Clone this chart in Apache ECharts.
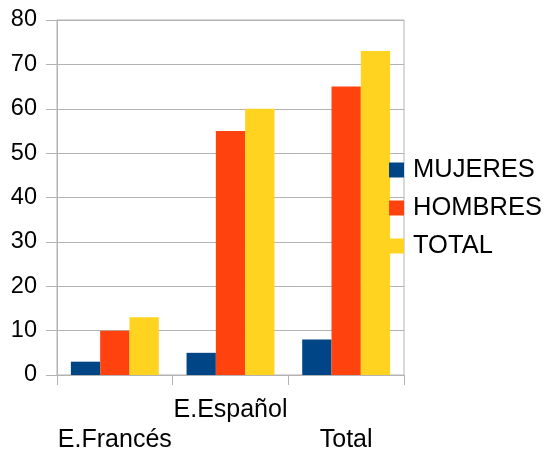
<!DOCTYPE html>
<html><head><meta charset="utf-8">
<script src="https://cdn.jsdelivr.net/npm/echarts@6/dist/echarts.min.js"></script>
<style>html,body{margin:0;padding:0;background:#fff}#c{width:547px;height:455px}</style>
</head><body><div id="c"></div>
<script>
const categories = ['E.Francés', 'E.Español', 'Total'];
const mujeres = [3, 5, 8];
const hombres = [10, 55, 65];
const total = [13, 60, 73];
const yTicks = [0, 10, 20, 30, 40, 50, 60, 70, 80];

const font = '"Liberation Sans", Arial, sans-serif';
const gray = '#b3b3b3';
const chart = echarts.init(document.getElementById('c'), null, {renderer: 'canvas'});
chart.setOption({
  animation: false,
  textStyle: {fontFamily: font},
  grid: {left: 57, right: 143, top: 20, bottom: 80, show: true, borderColor: gray, borderWidth: 1},
  legend: {
    orient: 'vertical', left: 384, top: 152,
    itemWidth: 15, itemHeight: 15, itemGap: 12,
    icon: 'rect',
    textStyle: {fontFamily: font, fontSize: 25.5, color: '#000', lineHeight: 26, padding: [0, 0, 0, 4]},
    data: ['MUJERES', 'HOMBRES', 'TOTAL']
  },
  xAxis: {
    type: 'category', data: categories,
    axisLine: {lineStyle: {color: gray}},
    axisTick: {show: true, length: 10, lineStyle: {color: gray}, alignWithLabel: false},
    axisLabel: {
      interval: 0, color: '#000', fontSize: 25, fontFamily: font, margin: 20, lineHeight: 30,
      formatter: (v, i) => (i % 2 === 0 ? '\n' + v : v)
    }
  },
  yAxis: {
    type: 'value', min: 0, max: 80, interval: 10,
    axisLine: {show: true, lineStyle: {color: gray}},
    axisTick: {show: true, length: 11, lineStyle: {color: gray}},
    splitLine: {lineStyle: {color: gray}},
    axisLabel: {color: '#000', fontSize: 23.5, fontFamily: font, margin: 20,
      formatter: v => yTicks.includes(v) ? String(v) : ''}
  },
  series: [
    {name: 'MUJERES', type: 'bar', data: mujeres, barGap: '0%', barCategoryGap: '24%', itemStyle: {color: '#004586'}},
    {name: 'HOMBRES', type: 'bar', data: hombres, itemStyle: {color: '#ff420e'}},
    {name: 'TOTAL', type: 'bar', data: total, itemStyle: {color: '#ffd320'}}
  ]
});
</script></body></html>
